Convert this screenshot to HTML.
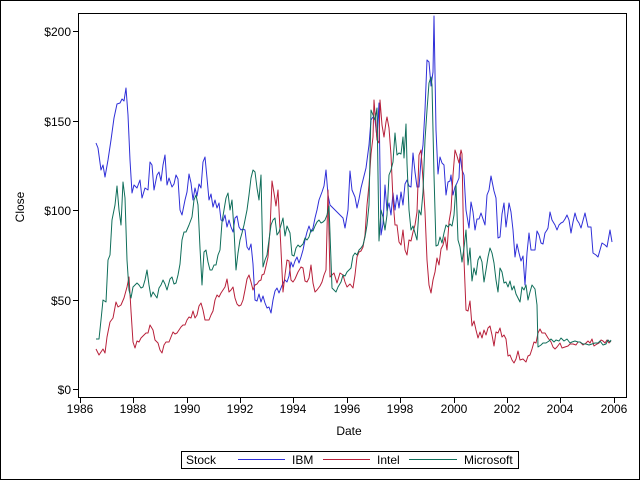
<!DOCTYPE html>
<html><head><style>body{margin:0;background:#fff}svg{display:block}text{font-family:"Liberation Sans",Arial,sans-serif;font-size:12px;fill:#000}</style></head>
<body>
<svg width="640" height="480" viewBox="0 0 640 480" xmlns="http://www.w3.org/2000/svg">
<rect x="0.5" y="0.5" width="639" height="479" fill="#fff" stroke="#000"/>
<rect x="78.5" y="13.5" width="548" height="384" fill="#fff" stroke="#000"/>
<g stroke="#000" stroke-width="1">
<line x1="73" y1="389.5" x2="78" y2="389.5"/><line x1="73" y1="300.5" x2="78" y2="300.5"/><line x1="73" y1="210.5" x2="78" y2="210.5"/><line x1="73" y1="121.5" x2="78" y2="121.5"/><line x1="73" y1="31.5" x2="78" y2="31.5"/>
<line x1="80.5" y1="398" x2="80.5" y2="403"/><line x1="133.5" y1="398" x2="133.5" y2="403"/><line x1="187.5" y1="398" x2="187.5" y2="403"/><line x1="240.5" y1="398" x2="240.5" y2="403"/><line x1="293.5" y1="398" x2="293.5" y2="403"/><line x1="347.5" y1="398" x2="347.5" y2="403"/><line x1="400.5" y1="398" x2="400.5" y2="403"/><line x1="454.5" y1="398" x2="454.5" y2="403"/><line x1="507.5" y1="398" x2="507.5" y2="403"/><line x1="560.5" y1="398" x2="560.5" y2="403"/><line x1="614.5" y1="398" x2="614.5" y2="403"/>
</g>
<g text-anchor="end">
<text x="71" y="394">$0</text><text x="71" y="305">$50</text><text x="71" y="215">$100</text><text x="71" y="126">$150</text><text x="71" y="36">$200</text>
</g>
<g text-anchor="middle">
<text x="80" y="413">1986</text><text x="133" y="413">1988</text><text x="187" y="413">1990</text><text x="240" y="413">1992</text><text x="293" y="413">1994</text><text x="347" y="413">1996</text><text x="400" y="413">1998</text><text x="454" y="413">2000</text><text x="507" y="413">2002</text><text x="560" y="413">2004</text><text x="614" y="413">2006</text>
<text x="349" y="435">Date</text>
<text transform="translate(24,207) rotate(-90)">Close</text>
</g>
<g fill="none" stroke-width="1" stroke-linejoin="round">
<polyline stroke="#2f2fd8" points="96,143 98,148 101,170 103,165 105,177 108,160 111,140 114,118 117,104 120,103 122,99 124,101 126,88 128,115 130,160 132,193 134,185 137,188 140,180 142,198 145,188 148,190 150,162 152,165 154,190 157,175 159,172 161,181 163,165 165,155 167,185 169,178 172,187 174,184 176,175 178,179 180,210 182,215 185,200 187,192 189,174 191,183 193,200 195,188 197,196 199,184 201,188 203,162 205,157 207,178 209,200 211,194 213,207 215,200 217,208 219,203 221,220 223,221 225,215 227,227 229,220 231,227 233,232 235,218 237,216 239,227 241,230 243,229 245,230 247,247 249,250 251,244 253,264 255,300 257,301 259,294 261,302 263,296 265,303 267,308 269,307 271,313 273,300 275,291 277,288 279,293 281,288 283,283 285,280 287,282 289,276 291,262 293,267 295,261 297,257 299,263 301,257 303,250 305,240 307,232 309,226 311,232 313,228 315,218 317,210 319,200 322,192 324,186 326,170 328,195 330,205 333,208 341,216 343,218 345,228 348,210 350,171 352,190 355,197 357,208 359,199 361,188 363,180 366,168 369,145 371,120 373,117 375,120 377,138 379,103 381,235 383,224 385,185 387,211 389,203 391,215 393,193 395,210 397,195 399,208 401,192 403,205 405,184 407,180 409,186 411,187 413,153 415,172 417,187 419,187 421,160 423,145 425,110 427,60 429,62 431,86 433,72 434,16 436,130 438,174 440,157 442,163 444,165 446,195 448,182 450,181 451,175 453,195 455,187 457,183 459,178 460,154 462,170 464,175 466,210 469,228 471,202 473,212 475,230 477,219 479,219 481,213 483,219 485,225 487,195 489,190 491,176 494,191 496,198 498,238 500,237 502,214 504,203 506,227 508,212 509,203 511,212 513,230 515,257 517,244 519,253 521,261 523,256 525,285 527,253 529,233 531,250 533,250 535,250 537,231 539,235 541,243 543,244 545,233 547,230 548,228 550,212 552,220 555,225 557,230 559,225 561,223 563,222 565,219 567,215 569,220 571,233 573,222 575,213 577,220 579,223 581,228 585,213 588,227 591,227 593,253 596,255 598,257 602,243 605,245 607,247 610,230 612,242"/>
<polyline stroke="#b8203a" points="96,349 99,355 101,352 103,349 105,353 107,337 110,322 113,318 116,302 118,307 121,305 124,298 127,287 129,277 131,311 133,342 135,348 137,341 139,342 141,338 144,335 146,333 148,333 150,325 153,330 155,340 158,343 160,350 162,353 164,345 166,342 169,342 171,337 173,332 175,334 177,333 179,330 181,327 183,325 185,325 187,320 189,317 191,318 193,311 195,318 197,315 199,306 201,303 203,310 205,320 207,320 209,320 211,315 213,311 215,300 217,295 219,297 221,293 223,290 225,287 227,279 229,292 231,290 233,287 235,298 237,304 239,306 241,305 243,300 245,290 247,279 249,275 251,282 253,290 255,285 257,284 259,281 261,280 262,275 264,274 266,266 268,257 270,230 272,181 274,193 276,206 278,190 281,250 283,292 285,275 287,260 289,261 291,280 293,282 295,279 298,272 301,267 303,268 305,281 307,282 309,278 311,265 313,283 315,292 317,290 320,286 322,282 324,275 326,270 328,190 330,277 334,273 337,283 340,273 343,275 345,282 347,287 350,284 353,288 355,275 357,257 359,252 361,251 363,247 365,235 367,205 369,185 371,154 373,137 374,100 377,140 379,143 380,100 382,125 384,137 386,122 387,117 389,128 391,155 393,200 395,225 397,225 399,242 401,245 403,230 405,250 407,255 409,240 411,241 413,232 415,225 417,212 419,155 421,150 423,180 425,212 427,260 429,285 431,293 433,280 435,272 437,258 439,265 441,249 443,245 445,237 447,250 449,222 451,210 453,175 455,150 457,156 459,163 461,150 462,154 464,260 466,310 468,311 470,301 472,326 474,321 476,330 478,338 480,332 482,338 484,330 486,335 488,328 490,326 492,335 494,346 496,332 498,333 500,328 502,337 504,335 506,339 508,356 510,355 512,360 514,363 516,359 518,351 520,360 523,359 526,362 528,356 530,355 532,349 534,342 536,343 538,333 540,329 542,333 545,333 548,338 551,342 553,347 555,349 557,347 560,343 562,348 565,347 568,346 570,344 573,344 576,345 578,342 580,342 583,345 586,343 588,341 590,343 592,339 594,346 597,344 599,343 601,340 603,341 605,343 607,340 609,343 611,341"/>
<polyline stroke="#0f6e5a" points="96,339 99,339 101,320 103,300 106,302 108,260 110,255 112,220 115,205 117,186 119,210 121,225 123,182 125,198 127,260 129,290 131,298 133,287 135,285 137,283 139,285 141,288 143,287 145,280 147,270 149,285 151,297 153,292 155,295 157,298 159,288 161,285 163,280 165,284 167,290 170,279 172,277 174,284 176,283 178,275 180,264 182,240 184,232 186,232 189,225 192,217 194,200 196,195 198,205 200,248 202,285 204,252 206,250 208,262 210,270 212,270 214,265 216,265 218,255 220,250 222,222 224,210 226,198 228,193 230,210 232,200 234,230 236,270 238,253 240,240 242,233 244,225 247,210 249,195 251,178 253,170 255,172 257,188 259,200 261,175 263,267 265,260 267,255 269,240 271,225 273,220 275,218 277,235 279,232 281,225 283,218 285,236 287,226 290,233 292,255 294,256 296,248 298,245 300,247 303,244 305,238 307,240 309,237 311,230 313,231 315,226 317,222 319,220 321,223 323,222 325,220 327,215 329,206 332,288 334,290 336,292 338,287 341,282 343,275 345,276 347,272 349,270 351,268 353,256 355,253 357,255 359,250 361,248 363,245 365,237 367,225 369,205 371,110 373,115 375,120 377,108 379,241 381,210 383,217 385,230 387,215 389,175 391,170 393,162 395,133 397,155 399,153 401,154 403,137 404,158 406,124 407,163 409,210 411,230 413,226 415,233 417,240 419,210 421,215 423,192 425,140 427,110 429,83 431,77 432,85 434,175 436,246 438,245 440,237 442,243 444,233 446,225 448,227 450,224 452,226 454,215 456,185 458,240 460,247 462,262 464,248 466,230 468,265 470,248 472,281 474,268 476,275 478,260 480,256 482,262 484,282 486,270 488,257 490,248 492,253 494,263 496,280 498,292 500,268 502,272 504,283 506,282 508,287 510,281 512,290 514,286 516,294 518,298 520,302 522,287 524,290 526,285 528,300 530,292 532,285 535,289 537,305 538,347 541,345 543,343 546,343 549,341 551,339 554,342 556,340 559,341 561,338 564,341 567,339 570,343 572,342 575,341 578,342 580,342 583,344 586,344 589,345 592,344 595,343 598,343 600,341 603,345 606,344 608,340 610,342 611,340"/>
</g>
<rect x="181.5" y="451.5" width="337" height="17" fill="#fff" stroke="#000"/>
<text x="186" y="464">Stock</text>
<line x1="238" y1="459.5" x2="285" y2="459.5" stroke="#2f2fd8"/><text x="292" y="464">IBM</text>
<line x1="323" y1="459.5" x2="370" y2="459.5" stroke="#b8203a"/><text x="377" y="464">Intel</text>
<line x1="409" y1="459.5" x2="457" y2="459.5" stroke="#0f6e5a"/><text x="464" y="464">Microsoft</text>
</svg>
</body></html>
